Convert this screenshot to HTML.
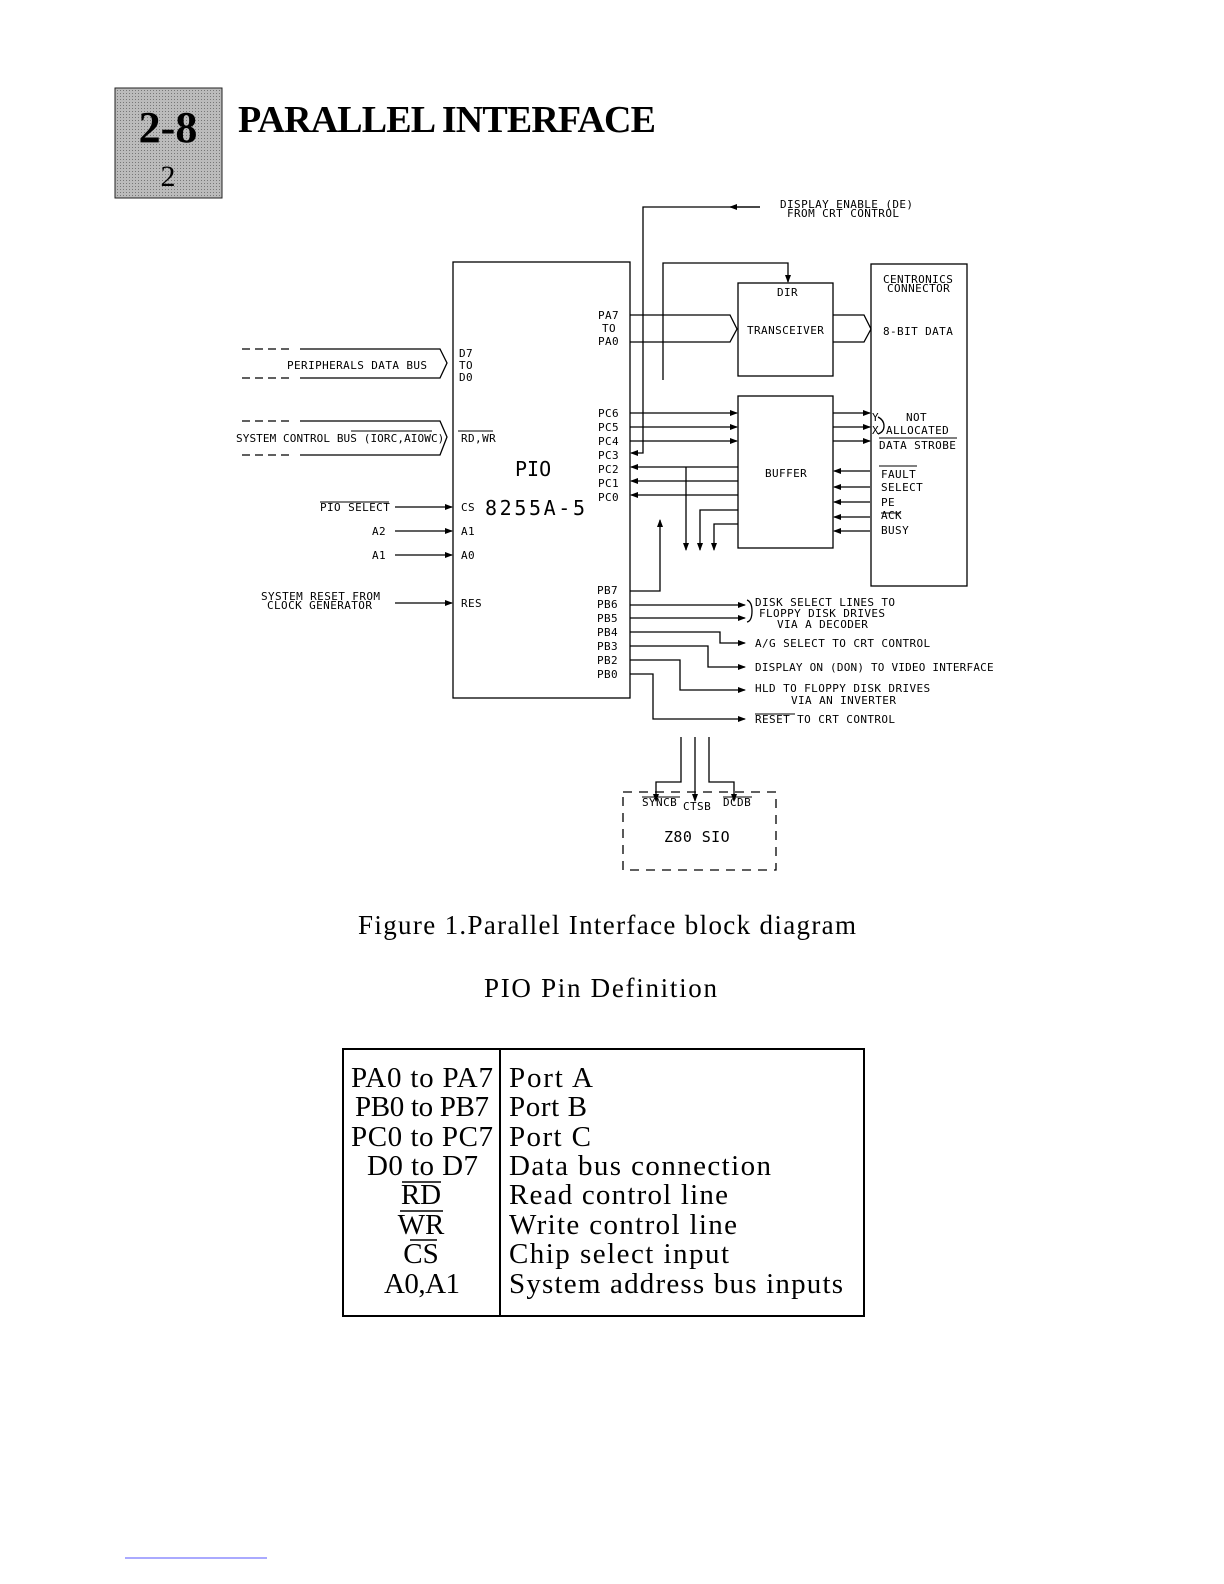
<!DOCTYPE html>
<html><head><meta charset="utf-8"><style>
body{margin:0;background:#fff;}
.pg{position:relative;width:1224px;height:1584px;overflow:hidden;background:#fff;}
</style></head><body><div class="pg">
<svg width="1224" height="1584" viewBox="0 0 1224 1584" xmlns="http://www.w3.org/2000/svg">
<defs>
<pattern id="dots" width="3" height="3" patternUnits="userSpaceOnUse"><rect width="3" height="3" fill="#bbb"/><rect width="1" height="1" fill="#777"/></pattern>
<marker id="a" markerWidth="8" markerHeight="8" refX="7" refY="4" orient="auto" markerUnits="userSpaceOnUse"><path d="M0,1 L8,4 L0,7 z" fill="#000"/></marker>
</defs>
<rect x="115" y="88" width="107" height="110" fill="url(#dots)" stroke="#222" stroke-width="1"/>
<text x="168" y="142" font-family="Liberation Serif" font-weight="bold" font-size="44" text-anchor="middle">2-8</text>
<text x="168" y="186" font-family="Liberation Serif" font-size="30" text-anchor="middle">2</text>
<text x="238" y="132" font-family="Liberation Serif" font-weight="bold" font-size="38" textLength="418">PARALLEL INTERFACE</text>

<g stroke="#000" stroke-width="1.3" fill="none">
<rect x="453" y="262" width="177" height="436"/>
<rect x="738" y="283" width="95" height="93"/>
<rect x="738" y="396" width="95" height="152"/>
<rect x="871" y="264" width="96" height="322"/>
<path d="M300,349 H440 L447,363 L440,378 H300" />
<path d="M242,349 H290 M242,378 H290" stroke-dasharray="8,5"/>
<path d="M300,421 H440 L447,437 L440,455 H300"/>
<path d="M242,421 H290 M242,455 H290" stroke-dasharray="8,5"/>
</g>
<g stroke="#000" stroke-width="1.3" fill="none" marker-end="url(#a)">
<path d="M395,507 H452"/><path d="M395,531 H452"/><path d="M395,555 H452"/><path d="M395,603 H452"/>
<path d="M760,207 H643 V453 H631"/>
<path d="M760,207 H730"/>
<path d="M663,380 V263 H788 V282"/>
<path d="M630,413 H737"/><path d="M630,427 H737"/><path d="M630,441 H737"/>
<path d="M738,467 H631"/><path d="M738,481 H631"/><path d="M738,495 H631"/>
<path d="M686,467 V550"/><path d="M738,510 H700 V550"/><path d="M738,524 H714 V550"/>
<path d="M833,413 H870"/><path d="M833,427 H870"/><path d="M833,441 H870"/>
<path d="M870,471 H834"/><path d="M870,487 H834"/><path d="M870,502 H834"/><path d="M870,517 H834"/><path d="M870,531 H834"/>
<path d="M630,591 H660 V520"/>
<path d="M630,605 H745"/><path d="M630,618 H745"/>
<path d="M630,632 H720 V643 H745"/>
<path d="M630,646 H708 V667 H745"/>
<path d="M630,660 H680 V690 H745"/>
<path d="M630,674 H653 V719 H745"/>
<path d="M681,737 V782 H656 V801"/><path d="M695,737 V801"/><path d="M709,737 V782 H734 V801"/>
</g>
<g stroke="#000" stroke-width="1.3" fill="none">
<path d="M630,315 H730 L737,329 L730,342 H630"/>
<path d="M833,315 H864 L871,329 L864,342 H833"/>
<path d="M747,600 Q752,602 752,611 Q752,621 747,622"/>
<path d="M878,417 Q884,420 884,426 Q884,432 878,434"/>
<rect x="623" y="792" width="153" height="78" stroke-dasharray="9,7"/>
</g>

<g font-family="DejaVu Sans Mono" font-size="11" fill="#000" letter-spacing="0.4">
<text x="287" y="369">PERIPHERALS DATA BUS</text>
<text x="459" y="357">D7</text><text x="459" y="369">TO</text><text x="459" y="381">D0</text>
<text x="236" y="442" letter-spacing="0.1">SYSTEM CONTROL BUS (IORC,AIOWC)</text>
<text x="461" y="442">RD,WR</text>
<text x="320" y="511">PIO SELECT</text>
<text x="372" y="535">A2</text><text x="372" y="559">A1</text>
<text x="261" y="600">SYSTEM RESET FROM</text><text x="267" y="609">CLOCK GENERATOR</text>
<text x="461" y="511">CS</text><text x="461" y="535">A1</text><text x="461" y="559">A0</text><text x="461" y="607">RES</text>
<text x="598" y="319">PA7</text><text x="602" y="332">TO</text><text x="598" y="345">PA0</text>
<text x="598" y="417">PC6</text><text x="598" y="431">PC5</text><text x="598" y="445">PC4</text><text x="598" y="459">PC3</text><text x="598" y="473">PC2</text><text x="598" y="487">PC1</text><text x="598" y="501">PC0</text>
<text x="597" y="594">PB7</text><text x="597" y="608">PB6</text><text x="597" y="622">PB5</text><text x="597" y="636">PB4</text><text x="597" y="650">PB3</text><text x="597" y="664">PB2</text><text x="597" y="678">PB0</text>
<text x="780" y="208">DISPLAY ENABLE (DE)</text><text x="787" y="217">FROM CRT CONTROL</text>
<text x="777" y="296">DIR</text>
<text x="747" y="334">TRANSCEIVER</text>
<text x="765" y="477">BUFFER</text>
<text x="883" y="283">CENTRONICS</text><text x="887" y="292">CONNECTOR</text>
<text x="883" y="335">8-BIT DATA</text>
<text x="872" y="421">Y</text><text x="906" y="421">NOT</text>
<text x="872" y="434">X</text><text x="886" y="434">ALLOCATED</text>
<text x="879" y="449">DATA STROBE</text>
<text x="881" y="478">FAULT</text><text x="881" y="491">SELECT</text><text x="881" y="506">PE</text><text x="881" y="519">ACK</text><text x="881" y="534">BUSY</text>
<text x="755" y="606">DISK SELECT LINES TO</text><text x="759" y="617">FLOPPY DISK DRIVES</text><text x="777" y="628">VIA A DECODER</text>
<text x="755" y="647">A/G SELECT TO CRT CONTROL</text>
<text x="755" y="671" letter-spacing="0.2">DISPLAY ON (DON) TO VIDEO INTERFACE</text>
<text x="755" y="692">HLD TO FLOPPY DISK DRIVES</text><text x="791" y="704">VIA AN INVERTER</text>
<text x="755" y="723">RESET TO CRT CONTROL</text>
<text x="642" y="806">SYNCB</text><text x="683" y="810">CTSB</text><text x="723" y="806">DCDB</text>
<text x="664" y="842" font-size="15">Z80 SIO</text>
</g>
<g stroke="#000" stroke-width="1">
<path d="M320,502 H389 M879,466 H917 M881,513 H901 M879,438 H957 M755,714 H795 M723,797 H752 M642,797 H680 M458,431 H493 M351,431 H432"/>
</g>
<text x="515" y="476" font-family="DejaVu Sans Mono" font-size="20">PIO</text>
<text x="485" y="515" font-family="DejaVu Sans Mono" font-size="20" textLength="100">8255A-5</text>

<text x="358" y="934" font-family="Liberation Serif" font-size="27" textLength="498">Figure 1.Parallel Interface block diagram</text>
<text x="484" y="997" font-family="Liberation Serif" font-size="27" textLength="233">PIO Pin Definition</text>

<g stroke="#000" stroke-width="2" fill="none">
<rect x="343" y="1049" width="521" height="267"/>
<line x1="500" y1="1049" x2="500" y2="1316"/>
<path d="M402,1182 H441 M400,1211 H443 M410,1240 H437" stroke-width="1.5"/>
</g>
<g font-family="Liberation Serif" font-size="29" fill="#000">
<text x="351" y="1087" textLength="142">PA0 to PA7</text><text x="355" y="1116" textLength="134">PB0 to PB7</text><text x="351" y="1146" textLength="142">PC0 to PC7</text><text x="367" y="1175" textLength="111">D0 to D7</text>
<g text-anchor="middle"><text x="421" y="1204">RD</text><text x="421" y="1234">WR</text><text x="421" y="1263">CS</text></g>
<text x="384" y="1293" textLength="76">A0,A1</text>
<text x="509" y="1087" textLength="84">Port A</text><text x="509" y="1116" textLength="78">Port B</text><text x="509" y="1146" textLength="82">Port C</text><text x="509" y="1175" textLength="262">Data bus connection</text><text x="509" y="1204" textLength="219">Read control line</text><text x="509" y="1234" textLength="228">Write control line</text><text x="509" y="1263" textLength="220">Chip select input</text><text x="509" y="1293" textLength="334">System address bus inputs</text>
</g>
<line x1="125" y1="1558" x2="267" y2="1558" stroke="#55f" stroke-width="1"/>
</svg>
</div></body></html>
